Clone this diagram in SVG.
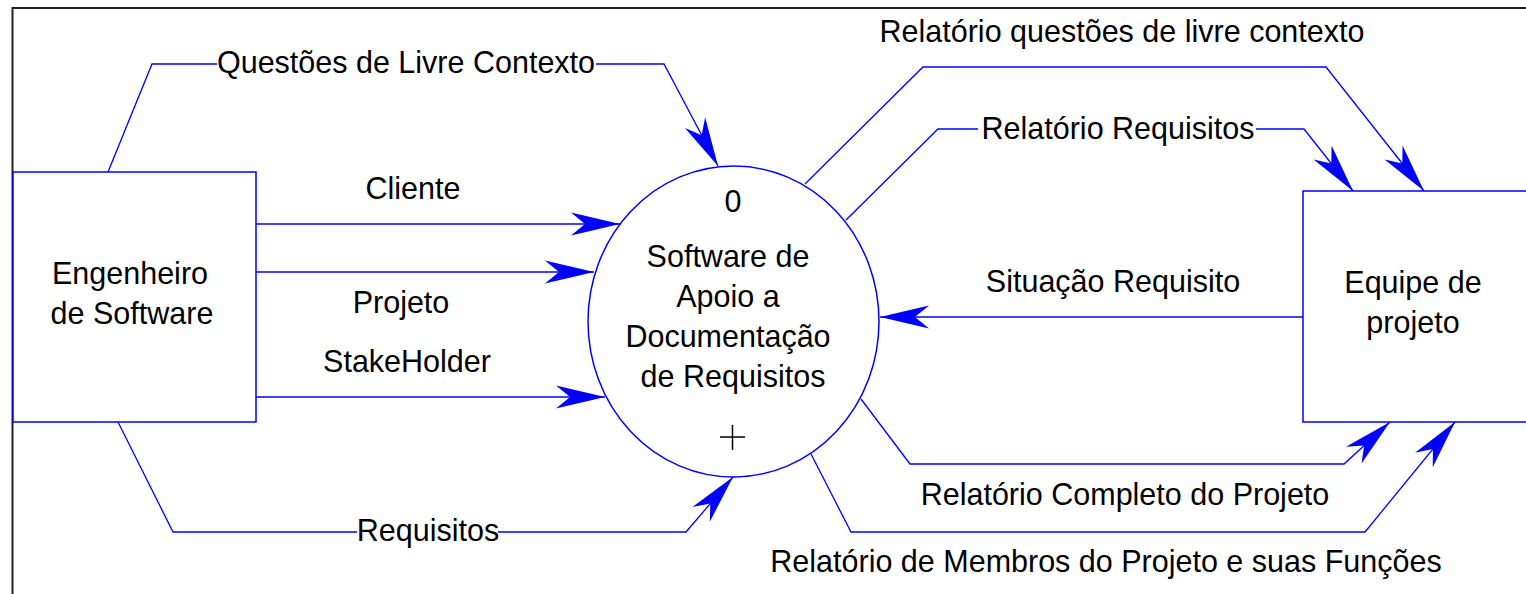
<svg xmlns="http://www.w3.org/2000/svg" width="1526" height="594" viewBox="0 0 1526 594">
<style>
  text { font-family: "Liberation Sans", Arial, sans-serif; font-size: 30.5px; fill: #000; }
  .c { text-anchor: middle; }
  .node { fill: #fff; stroke: #0000ff; stroke-width: 1.5; }
  .flow { fill: none; stroke: #0000ff; stroke-width: 1.3; }
  .arr { marker-end: url(#ah); }
</style>
<defs>
  <marker id="ah" markerUnits="userSpaceOnUse" markerWidth="60" markerHeight="40" viewBox="-50 -15 55 30" refX="0" refY="0" orient="auto" overflow="visible">
    <path d="M0,0 L-45,-10.5 L-32,0 L-45,10.5 Z" fill="#0000ff"/>
  </marker>
</defs>
<rect x="0" y="0" width="1526" height="594" fill="#fff"/>
<g id="frame">
  <path d="M12.5,594 L12.5,8 L1526,8" fill="none" stroke="#222" stroke-width="2"/>
</g>
<g id="connectors">
  <path class="flow" d="M108,172 L152,64 L217,64"/>
  <path class="flow arr" d="M596,64 L664,64 L718,166"/>
  <path class="flow arr" d="M256,224 L620,224"/>
  <path class="flow arr" d="M256,272 L594,272"/>
  <path class="flow arr" d="M256,397 L605,397"/>
  <path class="flow" d="M118,422 L173,532 L357,532"/>
  <path class="flow arr" d="M498,532 L686,532 L733,477"/>
  <path class="flow arr" d="M1303,317 L880,317"/>
  <path class="flow arr" d="M805,184 L923,67 L1326,67 L1424,191"/>
  <path class="flow" d="M846,220 L938,129 L978,129"/>
  <path class="flow arr" d="M1256,129 L1304,129 L1353,191"/>
  <path class="flow arr" d="M861,399 L910,464 L1344,464 L1390,422"/>
  <path class="flow arr" d="M811,454 L851,532 L1365,532 L1455,422"/>
</g>
<g id="labels">
  <text class="c" x="406" y="73">Questões de Livre Contexto</text>
  <text class="c" x="413" y="199">Cliente</text>
  <text class="c" x="401" y="313">Projeto</text>
  <text class="c" x="407" y="372">StakeHolder</text>
  <text class="c" x="428" y="541">Requisitos</text>
  <text class="c" x="1122" y="42">Relatório questões de livre contexto</text>
  <text class="c" x="1118" y="139">Relatório Requisitos</text>
  <text class="c" x="1113" y="292">Situação Requisito</text>
  <text class="c" x="1125" y="505">Relatório Completo do Projeto</text>
  <text class="c" x="1106" y="572">Relatório de Membros do Projeto e suas Funções</text>
</g>
<g id="engenheiro">
  <rect class="node" x="13" y="172" width="243" height="250"/>
  <text class="c" x="130" y="284">Engenheiro</text>
  <text class="c" x="132" y="324">de Software</text>
</g>
<g id="processo">
  <ellipse class="node" cx="733.5" cy="321.5" rx="145.5" ry="155.5"/>
  <text class="c" x="733" y="212">0</text>
  <text class="c" x="728" y="267">Software de</text>
  <text class="c" x="728" y="307">Apoio a</text>
  <text class="c" x="728" y="347">Documentação</text>
  <text class="c" x="733" y="387">de Requisitos</text>
  <path d="M720,437 L745,437 M732.5,425 L732.5,450" stroke="#000" stroke-width="1.5" fill="none"/>
</g>
<g id="equipe">
  <path class="node" d="M1530,191 L1303,191 L1303,422 L1530,422"/>
  <text class="c" x="1413" y="293">Equipe de</text>
  <text class="c" x="1413" y="333">projeto</text>
</g>
</svg>
